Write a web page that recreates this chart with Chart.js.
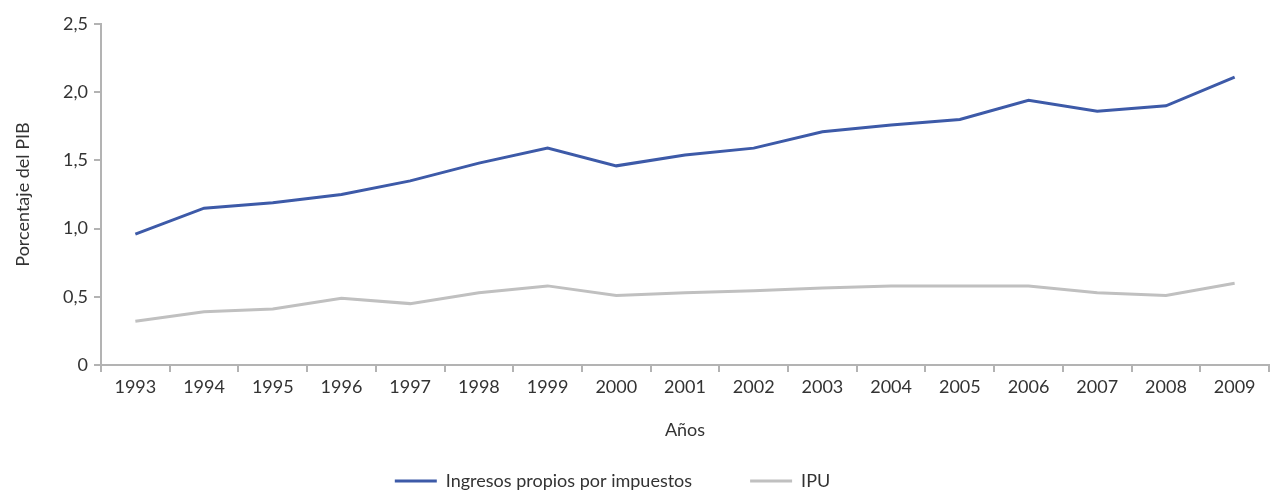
<!DOCTYPE html>
<html>
<head>
<meta charset="utf-8">
<script src="https://cdn.jsdelivr.net/npm/chart.js@4/dist/chart.umd.min.js"></script>
<style>
  html, body { margin: 0; padding: 0; background: #fff; }
  #wrap { width: 1270px; height: 493px; }
</style>
</head>
<body>
<div id="wrap"><canvas id="grafico"></canvas></div>
<script>
const anos = ['1993','1994','1995','1996','1997','1998','1999','2000','2001','2002','2003','2004','2005','2006','2007','2008','2009'];
const ingresosPropios = [0.96, 1.15, 1.19, 1.25, 1.35, 1.48, 1.59, 1.46, 1.54, 1.59, 1.71, 1.76, 1.80, 1.94, 1.86, 1.90, 2.11];
const ipu = [0.32, 0.39, 0.41, 0.49, 0.45, 0.53, 0.58, 0.51, 0.53, 0.545, 0.565, 0.58, 0.58, 0.58, 0.53, 0.51, 0.60];
const ticksY = ['0', '0,5', '1,0', '1,5', '2,0', '2,5'];

const gris = '#b3b3b3';
const texto = '#333333';

Chart.defaults.font.family = 'Lato, "Open Sans", sans-serif';
Chart.defaults.font.size = 18;
Chart.defaults.color = texto;

// la leyenda del original no esta centrada en el lienzo, se corre un poco a la izquierda
const moverLeyenda = {
    id: 'moverLeyenda',
    beforeDraw(chart) {
        const leyenda = chart.legend;
        if (leyenda && !leyenda._movida) {
            leyenda.left -= 22;
            leyenda.right -= 22;
            leyenda._movida = true;
        }
    }
};

const ctx = document.getElementById('grafico').getContext('2d');

new Chart(ctx, {
    type: 'line',
    data: {
        labels: anos,
        datasets: [
            {
                label: 'Ingresos propios por impuestos',
                data: ingresosPropios,
                borderColor: '#3d5aa8',
                backgroundColor: '#3d5aa8',
                borderWidth: 3,
                pointRadius: 0,
                tension: 0
            },
            {
                label: 'IPU',
                data: ipu,
                borderColor: '#c0c0c0',
                backgroundColor: '#c0c0c0',
                borderWidth: 3,
                pointRadius: 0,
                tension: 0
            }
        ]
    },
    options: {
        responsive: true,
        maintainAspectRatio: false,
        animation: false,
        layout: {
            // la leyenda deja 10px vacios abajo, se compensa aqui
            padding: { top: 24, right: 1, left: 0, bottom: -7 }
        },
        scales: {
            x: {
                offset: true,
                border: { color: gris, width: 2 },
                grid: {
                    offset: true,
                    drawOnChartArea: false,
                    drawTicks: true,
                    tickLength: 7,
                    color: gris,
                    lineWidth: 2
                },
                ticks: { color: texto, padding: 4, maxRotation: 0 },
                title: {
                    display: true,
                    text: 'Años',
                    color: texto,
                    padding: { top: 0, bottom: -27 }
                },
                afterFit: (scale) => { scale.height = 49; }
            },
            y: {
                min: 0,
                max: 2.5,
                border: { color: gris, width: 2 },
                grid: {
                    drawOnChartArea: false,
                    drawTicks: true,
                    tickLength: 7,
                    color: gris,
                    lineWidth: 2
                },
                ticks: {
                    stepSize: 0.5,
                    color: texto,
                    padding: 6,
                    callback: (v, i) => ticksY[i]
                },
                title: {
                    display: true,
                    text: 'Porcentaje del PIB',
                    color: texto,
                    padding: { top: 12, bottom: 0 }
                },
                afterFit: (scale) => { scale.width = 101; }
            }
        },
        plugins: {
            legend: {
                position: 'bottom',
                labels: {
                    usePointStyle: true,
                    pointStyle: 'line',
                    pointStyleWidth: 42,
                    boxHeight: 18,
                    padding: 58,
                    color: texto
                }
            },
            tooltip: { enabled: false }
        }
    },
    plugins: [moverLeyenda]
});
</script>
</body>
</html>
